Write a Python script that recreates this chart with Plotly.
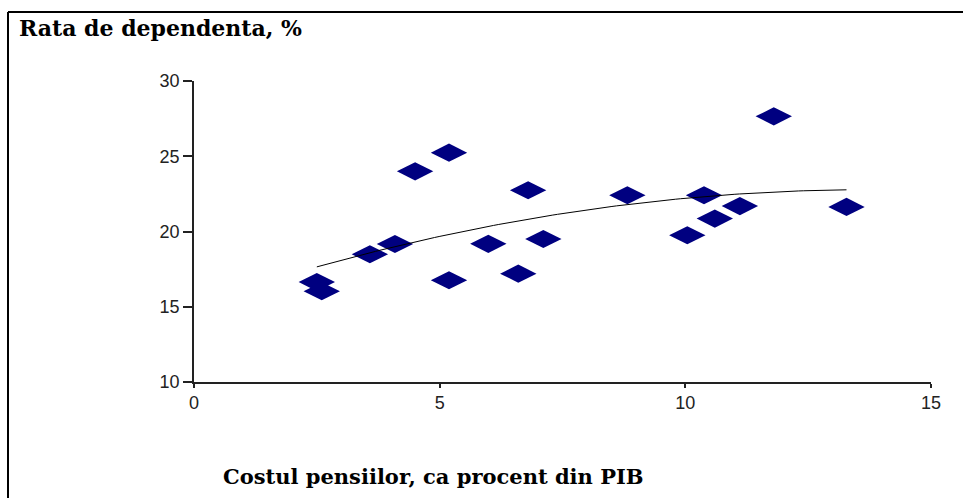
import numpy as np
import plotly.graph_objects as go

# ---- data ----
cost_pensii = [2.50, 2.60, 3.58, 4.09, 4.50, 5.19, 5.19, 5.99, 6.60, 6.80,
               7.11, 8.82, 10.04, 10.38, 10.60, 11.11, 11.80, 13.28]
rata_dependenta = [16.64, 16.03, 18.49, 19.17, 24.00, 25.24, 16.76, 19.18, 17.20, 22.74,
                   19.50, 22.41, 19.75, 22.41, 20.86, 21.69, 27.65, 21.63]
x_ticks = [0, 5, 10, 15]
y_ticks = [10, 15, 20, 25, 30]
y_title = "Rata de dependenta, %"
x_title = "Costul pensiilor, ca procent din PIB"

# ---- polynomial (order 2) trend line fitted to the data ----
coef = np.polyfit(cost_pensii, rata_dependenta, 2)
tx = np.linspace(min(cost_pensii), max(cost_pensii), 100)
ty = np.polyval(coef, tx)

W, H = 963, 498
L, R, T, B = 194, 32, 81, 116
pw, ph = W - L - R, H - T - B


def px(x):
    return (x - L) / pw


def py(y):
    return (H - B - y) / ph


fig = go.Figure()
fig.add_trace(go.Scatter(
    x=cost_pensii, y=rata_dependenta, mode="markers",
    marker=dict(symbol="diamond-wide", size=26, color="#000080", line=dict(width=0)),
    showlegend=False, hoverinfo="x+y"))
fig.add_trace(go.Scatter(
    x=tx, y=ty, mode="lines", line=dict(color="black", width=1),
    showlegend=False, hoverinfo="skip"))

tickfont = dict(family="Liberation Sans, Arial, sans-serif", size=18, color="#222")
fig.update_xaxes(range=[0, 15], tickvals=x_ticks, showgrid=False, zeroline=False,
                 showline=True, linecolor="#222", linewidth=1.5,
                 ticks="outside", ticklen=4, tickwidth=1.5, tickcolor="#222",
                 tickfont=tickfont)
fig.update_yaxes(range=[10, 30], tickvals=y_ticks, showgrid=False, zeroline=False,
                 showline=True, linecolor="#222", linewidth=1.5,
                 ticks="outside", ticklen=9, tickwidth=1.5, tickcolor="#222",
                 tickfont=tickfont)

titlefont = dict(family="DejaVu Serif, serif", size=22, color="black", weight="bold")
fig.add_annotation(text=y_title, xref="paper", yref="paper", x=px(17), y=py(28),
                   xanchor="left", yanchor="middle", showarrow=False, font=titlefont)
fig.add_annotation(text=x_title, xref="paper", yref="paper", x=px(433), y=py(476),
                   xanchor="center", yanchor="middle", showarrow=False,
                   font=dict(titlefont, size=21))

# frame lines (top and left)
fig.add_shape(type="line", xref="paper", yref="paper", x0=px(8), x1=px(W + 5),
              y0=py(12), y1=py(12), line=dict(color="black", width=2))
fig.add_shape(type="line", xref="paper", yref="paper", x0=px(8), x1=px(8),
              y0=py(12), y1=py(H + 5), line=dict(color="black", width=2))

fig.update_layout(width=W, height=H, margin=dict(l=L, r=R, t=T, b=B),
                  plot_bgcolor="white", paper_bgcolor="white")

fig.write_html("out.html", config={"displayModeBar": False},
               post_script="document.body.style.margin='0';document.body.style.overflow='hidden';")
